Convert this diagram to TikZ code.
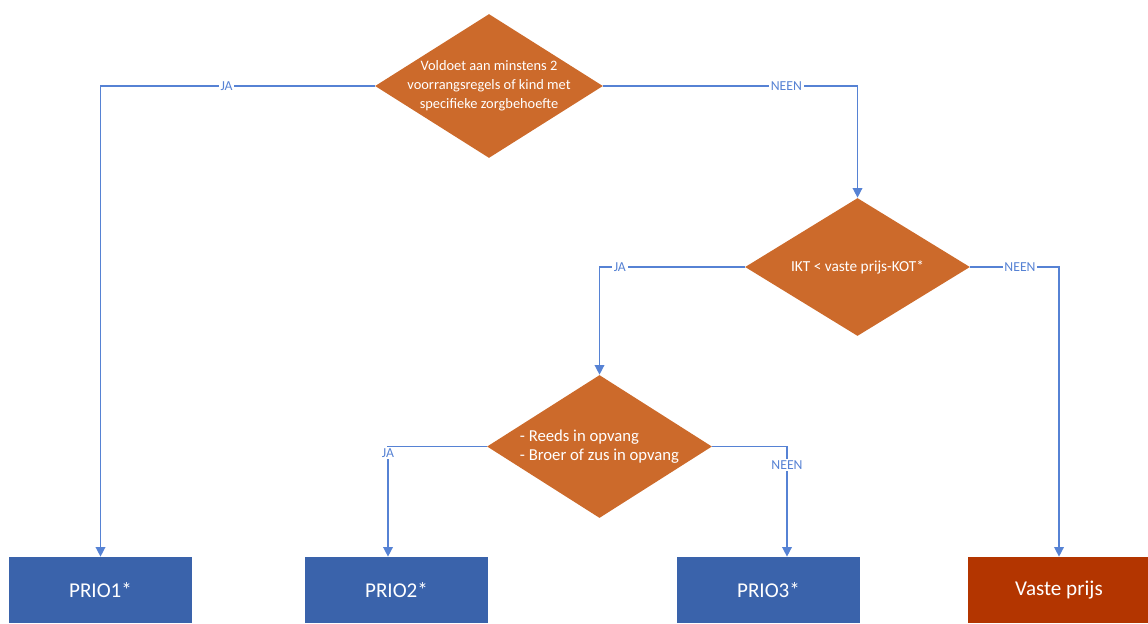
\documentclass[tikz,border=0pt]{standalone}
\usepackage{fontspec}
\setmainfont{Carlito}
\usetikzlibrary{shapes.geometric,arrows.meta}

\definecolor{keuzekleur}{RGB}{204,106,43}
\definecolor{priokleur}{RGB}{58,99,171}
\definecolor{prijskleur}{RGB}{179,53,0}
\definecolor{lijnkleur}{RGB}{86,130,212}

\tikzset{
  keuze/.style={diamond, fill=keuzekleur, text=white, inner sep=0pt, aspect=1.6,
    font=\fontsize{8.2}{10.8}\selectfont, align=center},
  uitkomst/.style={rectangle, fill=priokleur, text=white, minimum width=3.66cm,
    minimum height=1.32cm, font=\fontsize{12}{14}\selectfont},
  pijl/.style={draw=lijnkleur, line width=0.8pt, -{Triangle[width=5.5pt,length=5.5pt]}},
  etiket/.style={fill=white, text=lijnkleur, inner sep=1pt, font=\fontsize{7.8}{9}\selectfont}
}

\begin{document}
\begin{tikzpicture}[x=0.02cm,y=-0.02cm]
\useasboundingbox (0,0) rectangle (1148,623);

% beslissingen
\node[keuze, inner sep=-7pt, minimum width=4.56cm, minimum height=2.88cm] (d1) at (489,86)
  {Voldoet aan minstens 2\\voorrangsregels of kind met\\specifieke zorgbehoefte};
\node[keuze, minimum width=4.5cm, minimum height=2.76cm, font=\fontsize{8.7}{10.8}\selectfont] (d2) at (857.5,267)
  {IKT < vaste prijs-KOT*};
\node[keuze, minimum width=4.5cm, minimum height=2.86cm, align=left,
  font=\fontsize{9.5}{11}\selectfont] (d3) at (599.5,446.5)
  {- Reeds in opvang\\- Broer of zus in opvang};

% uitkomsten
\node[uitkomst] (p1) at (100.5,590) {PRIO1*};
\node[uitkomst] (p2) at (396.5,590) {PRIO2*};
\node[uitkomst] (p3) at (768.5,590) {PRIO3*};
\node[uitkomst, fill=prijskleur] (vp) at (1059,590) {Vaste prijs};

\coordinate (p2in) at ([xshift=-0.17cm]p2.north);
\coordinate (p3in) at ([xshift=0.37cm]p3.north);

% verbindingen
\draw[pijl] (d1.west) -| node[etiket, pos=0.27] {JA} (p1.north);
\draw[pijl] (d1.east) -| node[etiket, pos=0.36] {NEEN} (d2.north);
\draw[pijl] (d2.west) -| node[etiket, pos=0.43] {JA} (d3.north);
\draw[pijl] (d2.east) -| node[etiket, pos=0.28] {NEEN} (vp.north);
\draw[pijl] (d3.west) -| node[etiket, pos=0.53] {JA} (p2in);
\draw[pijl] (d3.east) -| node[etiket, pos=0.585] {NEEN} (p3in);
\end{tikzpicture}
\end{document}
